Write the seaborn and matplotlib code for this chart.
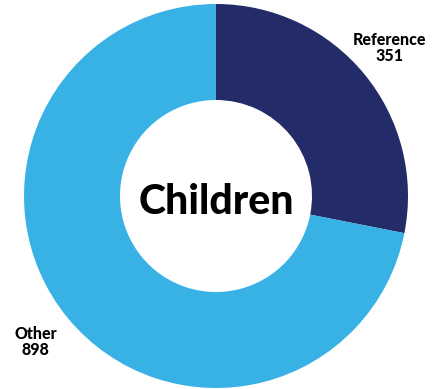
import matplotlib
matplotlib.use("Agg")
import matplotlib.pyplot as plt
import seaborn as sns

categories = ["Reference", "Other"]
values = [351, 898]
center_label = "Children"

sns.set_style("white")
plt.rcParams['font.family'] = ['Lato', 'DejaVu Sans']
colors = ["#232B68", "#38B2E4"]

fig = plt.figure(figsize=(4.45, 3.89), dpi=100)
ax = fig.add_axes([24/445, 1/389, 384/445, 384/389])
wedges, _ = ax.pie(values, colors=colors, startangle=90, counterclock=False,
                   radius=1.0, wedgeprops=dict(width=0.5, linewidth=0))
ax.set_xlim(-1, 1)
ax.set_ylim(-1, 1)
ax.set_aspect("equal")
ax.axis("off")

ax.text(0, -0.03, center_label, ha="center", va="center", fontsize=29.5,
        fontweight="black", color="#000000")
label_pos = [(0.905, 0.77), (-0.94, -0.76)]
for cat, val, (x, y) in zip(categories, values, label_pos):
    ax.text(x, y, f"{cat}\n{val}", ha="center", va="center", fontsize=11.5,
            fontweight="black", color="#000000", linespacing=1.0)

fig.savefig("out.png", dpi=100)
